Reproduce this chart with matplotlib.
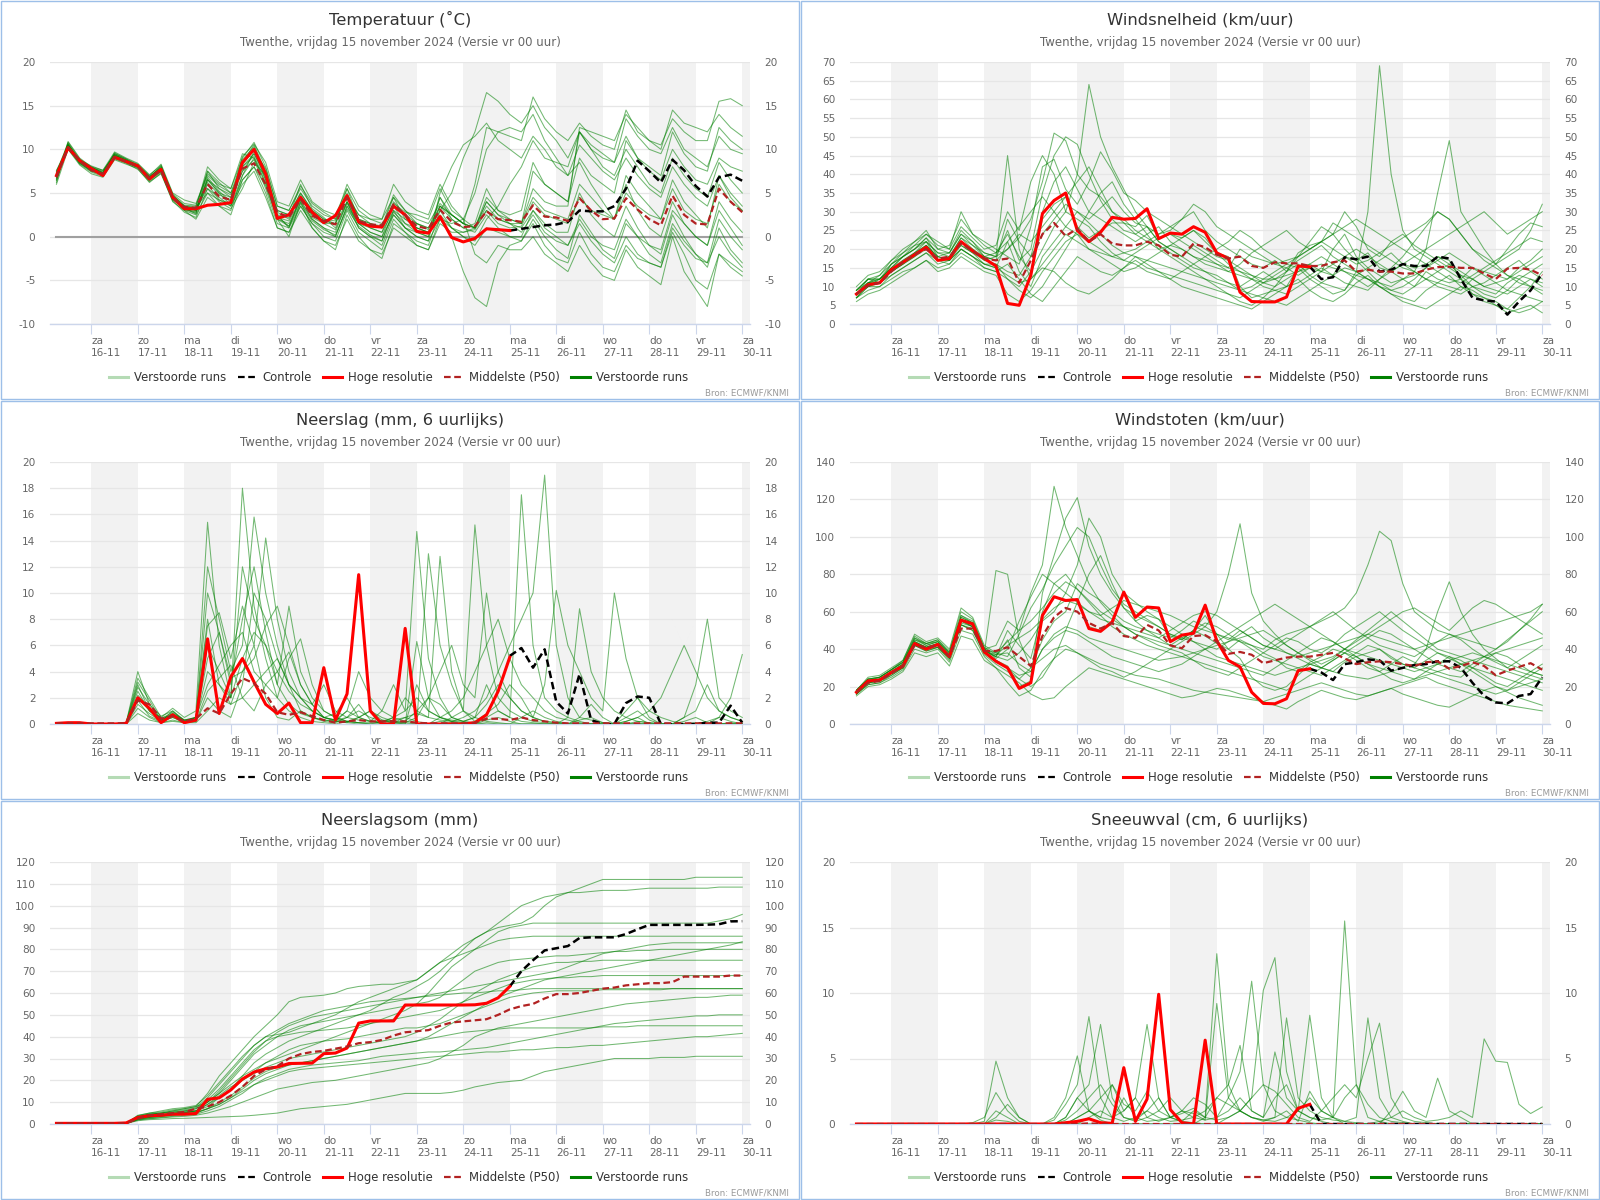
import numpy as np
import pandas as pd
import matplotlib
matplotlib.use('Agg')
import matplotlib.pyplot as plt
from matplotlib.lines import Line2D
from matplotlib.patches import Rectangle

plt.rcParams['font.family'] = ['DejaVu Sans']
plt.rcParams['axes.unicode_minus'] = False

# tijdas: 6-uurlijks, 15-11 06 UTC t/m 30-11 00 UTC
times = pd.date_range('2024-11-15 06:00', '2024-11-30 00:00', freq='6h')
day_ticks = pd.date_range('2024-11-16', '2024-11-30', freq='D')
day_names = ['za', 'zo', 'ma', 'di', 'wo', 'do', 'vr', 'za', 'zo', 'ma', 'di', 'wo', 'do', 'vr', 'za']
day_labels = [f'{n}\n{d.day}-{d.month}' for n, d in zip(day_names, day_ticks)]

subtitle = 'Twenthe, vrijdag 15 november 2024 (Versie vr 00 uur)'
legend_labels = ['Verstoorde runs', 'Controle', 'Hoge resolutie', 'Middelste (P50)', 'Verstoorde runs']

# ---------------- Temperatuur ----------------
temp_members = [
    [6.5,10.5,8.5,7.5,7.2,9.3,8.8,8.0,6.8,8.0,4.8,3.5,
     3.0,6.5,5.0,4.5,8.5,10.5,7.5,3.0,2.5,5.0,3.0,2.0,
     1.5,5.0,2.0,1.0,0.5,4.0,2.5,1.0,0.5,2.5,1.0,0.5,
     0.8,3.0,1.5,1.0,1.2,4.0,2.5,2.0,1.5,4.5,3.0,2.5,
     2.0,5.0,3.5,2.5,2.0,5.5,3.0,2.0,1.5,6.0,4.0,3.0],
    [7.2,10.8,8.9,7.9,7.4,9.6,8.9,8.3,7.0,8.3,5.0,4.2,
     3.8,7.2,6.0,5.5,9.0,10.8,8.0,3.5,3.0,5.5,3.5,2.5,
     2.0,6.0,3.5,2.5,2.0,4.5,3.0,1.5,1.0,3.5,2.5,1.5,
     6.0,12.5,12.0,11.5,11.0,16.0,13.5,12.0,11.0,13.0,11.5,10.5,
     10.0,14.5,12.0,11.0,10.5,13.5,12.0,11.0,11.0,15.5,15.8,15.0],
    [6.0,10.0,8.2,7.2,6.8,8.8,8.3,7.8,6.2,7.3,4.0,3.0,
     2.5,5.0,3.5,2.5,6.5,8.0,5.0,1.0,0.5,3.5,1.5,0.0,
     -0.5,3.0,0.5,-0.5,-1.5,2.0,0.5,-1.0,-1.5,2.0,0.0,-4.0,
     -7.0,-8.0,-3.0,-1.0,-0.5,1.5,-1.0,-2.5,-3.0,0.5,-2.0,-3.5,
     -4.0,-1.0,-2.5,-3.0,-3.5,0.5,-2.0,-5.0,-6.0,-2.0,-3.5,-4.5],
    [7.5,10.6,8.6,8.0,7.6,9.4,8.7,8.2,6.9,7.9,4.6,3.2,
     2.8,6.0,4.2,3.8,8.0,9.5,7.0,2.5,2.2,6.0,3.2,2.2,
     1.0,4.0,1.0,0.0,-0.5,3.0,1.0,0.5,0.0,4.5,2.0,1.0,
     1.5,5.5,3.0,2.5,3.0,8.5,6.0,5.0,4.0,9.0,7.0,6.0,
     5.0,11.0,9.0,8.0,7.0,12.0,9.5,8.0,7.5,12.5,11.0,10.0],
    [6.8,10.3,8.8,7.7,7.1,9.0,8.5,7.9,6.5,7.5,4.3,3.5,
     3.2,8.0,6.5,5.5,9.5,9.0,6.0,2.0,1.5,4.0,2.0,1.0,
     0.0,3.5,1.0,0.0,-1.0,2.5,1.0,0.0,-0.5,2.0,1.5,2.0,
     5.0,10.0,12.0,12.5,12.0,14.0,11.0,9.0,7.0,8.5,6.0,4.0,
     2.0,6.0,3.0,1.0,0.0,4.0,1.5,0.0,-1.0,3.0,1.0,-1.0],
    [7.0,10.4,8.4,7.6,7.0,9.2,8.6,8.1,6.7,7.8,4.4,3.0,
     2.0,4.5,3.5,3.0,7.0,9.8,7.8,3.5,3.0,5.8,3.8,2.8,
     2.0,4.8,2.5,1.5,1.0,3.8,2.8,2.5,2.0,5.5,3.0,2.0,
     1.0,3.5,2.0,1.5,0.5,2.5,0.5,-0.5,-1.0,1.5,-0.5,-2.0,
     -3.0,0.0,-2.0,-3.0,-3.5,1.0,-1.0,-2.5,-3.0,2.0,0.0,-1.5],
    [6.6,10.7,8.7,7.8,7.3,9.5,8.8,8.2,6.6,7.6,4.7,3.6,
     3.5,7.5,5.5,4.5,8.2,10.0,6.5,2.0,0.0,4.0,1.0,-0.5,
     -1.5,2.5,0.0,-1.5,-2.5,1.5,0.5,-0.5,-1.0,3.0,5.0,9.0,
     12.0,16.5,15.5,14.0,13.0,15.0,12.5,11.0,9.0,12.0,10.5,9.5,
     8.5,11.5,9.0,7.5,6.5,10.0,8.0,6.5,6.0,9.0,8.0,7.5],
    [7.3,10.1,8.6,7.9,7.5,9.3,8.7,8.0,6.4,7.4,4.2,3.3,
     3.0,6.8,5.2,4.0,7.5,8.8,5.5,1.5,1.0,4.5,2.5,1.5,
     1.5,5.5,2.0,1.5,1.0,4.5,2.0,1.0,0.5,3.0,1.0,0.0,
     -0.5,2.0,3.5,6.0,8.0,11.0,9.0,8.5,8.0,12.0,10.0,9.0,
     8.5,13.5,11.5,10.0,9.5,12.5,10.0,9.0,8.0,11.5,10.0,9.5],
    [6.9,10.5,8.8,8.1,7.6,9.7,9.0,8.4,7.1,8.1,4.9,3.8,
     3.6,7.0,5.8,5.0,8.8,10.3,7.2,2.8,2.0,4.8,2.2,1.5,
     0.8,3.8,1.5,1.0,0.5,3.0,2.0,1.5,1.0,2.0,1.0,0.0,
     -1.0,1.0,0.5,0.0,0.0,3.0,1.5,0.5,0.5,5.0,2.5,1.0,
     0.0,3.5,1.0,-1.0,-2.0,2.5,0.0,-2.0,-3.5,1.0,-1.5,-3.0],
    [7.1,10.2,8.3,7.4,6.9,8.9,8.4,7.7,6.3,7.2,4.1,2.8,
     2.2,5.5,4.5,3.5,6.0,7.5,4.5,1.0,0.5,3.0,1.0,-0.5,
     -1.0,2.0,-0.5,-1.5,-2.0,1.0,0.0,-1.0,-1.5,1.5,0.5,0.5,
     1.0,4.0,2.5,2.0,1.5,5.5,4.0,3.5,3.5,12.5,12.0,11.5,
     11.0,14.0,12.5,11.0,10.0,14.5,13.0,12.5,12.0,14.0,12.5,11.5],
    [6.4,10.9,9.0,8.0,7.3,9.5,8.9,8.1,6.8,7.7,4.5,3.4,
     3.3,5.5,4.0,3.2,5.5,8.5,7.0,3.0,2.5,5.0,3.0,2.0,
     1.8,4.5,2.5,2.0,1.5,3.5,2.5,1.5,0.8,4.5,2.5,1.5,
     1.0,3.0,2.0,1.5,1.5,4.5,3.0,2.5,2.0,6.0,4.5,3.0,
     2.0,7.0,5.0,3.5,2.0,6.5,4.0,2.5,1.0,7.0,4.5,3.0],
    [7.6,10.0,8.5,7.6,7.2,9.0,8.5,8.0,6.6,7.5,4.6,3.1,
     2.9,6.2,4.8,4.2,9.2,10.6,8.5,4.0,3.5,6.5,4.0,3.0,
     2.5,5.5,3.0,2.0,2.0,6.0,4.0,3.0,2.5,6.0,3.5,2.0,
     -2.0,-3.0,-1.0,-1.5,-1.5,0.0,-2.0,-3.0,-4.0,-1.0,-3.0,-4.5,
     -5.0,-1.5,-3.5,-4.5,-5.5,0.0,-4.0,-6.0,-8.0,-2.0,-3.0,-4.0],
    [6.2,10.6,8.6,7.7,7.0,9.4,8.7,8.0,6.5,8.2,4.5,3.3,
     2.6,6.5,5.5,4.8,7.5,9.5,6.8,2.5,1.0,3.5,1.5,0.5,
     0.0,3.5,1.5,0.5,0.0,2.5,1.0,0.0,-0.5,5.0,8.0,10.5,
     11.5,13.0,11.0,10.0,9.0,11.5,10.0,8.0,7.0,10.5,9.0,7.5,
     6.5,9.0,7.0,5.5,4.5,8.0,6.0,4.5,3.5,7.0,5.0,3.5],
    [7.4,10.3,8.8,7.9,7.3,9.2,8.6,8.1,6.8,7.8,4.6,3.4,
     3.0,6.6,5.0,3.6,7.0,9.0,6.2,2.2,1.8,4.2,2.0,1.0,
     0.5,4.0,1.5,0.5,0.0,3.5,1.5,0.5,0.0,3.5,2.0,1.0,
     0.5,2.5,1.0,0.0,-0.5,2.0,0.0,-1.5,-2.5,2.5,0.5,-1.5,
     -2.5,1.5,0.0,-1.0,-1.5,3.0,1.5,0.0,-1.0,4.0,2.0,0.5],
    [6.7,10.1,8.4,7.5,7.1,9.1,8.5,7.9,6.6,7.6,4.3,3.1,
     2.7,7.5,6.2,5.0,8.0,9.2,6.5,2.3,1.2,4.5,2.5,1.8,
     1.5,4.0,2.0,1.5,1.2,4.8,3.0,2.0,1.5,3.8,2.5,1.5,
     1.0,4.5,3.0,2.0,1.5,7.5,6.0,5.0,4.0,12.0,10.0,8.0,
     7.0,10.0,8.0,6.0,5.0,9.0,7.0,5.5,4.5,8.5,6.5,5.0],
    [7.0,10.5,8.7,7.8,7.2,9.3,8.7,8.2,6.9,7.9,4.7,3.5,
     3.4,5.0,4.2,3.5,6.5,8.0,5.8,2.0,1.2,3.8,1.8,0.8,
     0.2,3.2,1.2,0.2,-0.5,2.8,1.5,1.0,0.5,3.5,2.5,1.5,
     1.0,4.0,2.5,1.5,1.0,3.0,1.0,0.0,-1.0,2.0,0.0,-1.0,
     -1.5,2.0,0.0,-2.0,-3.0,1.5,-0.5,-2.0,-3.0,0.0,-2.0,-3.5],
]
temp_hr = [7.0,10.2,8.7,7.8,7.0,9.1,8.6,8.1,6.6,7.7,4.5,3.2,
           3.2,3.6,3.7,3.9,8.5,10.0,7.2,2.1,2.5,4.5,2.8,1.6,
           2.4,4.7,1.7,1.2,1.1,3.5,2.5,0.6,0.4,2.3,-0.1,-0.6,
           -0.2,0.9,0.8,0.7]
temp_ctrl = [0.7,0.9,1.1,1.3,1.4,1.7,3.0,2.9,2.9,3.5,5.5,8.7,7.5,6.2,8.8,7.6,5.8,4.6,6.8,7.1,6.4]
temp_p50 = [6.8,10.2,8.7,7.6,7.2,9.1,8.6,8.0,6.7,7.6,4.4,3.4,
            3.3,6.0,4.6,4.2,7.8,8.4,6.0,2.8,2.2,4.3,2.4,1.8,
            1.4,4.5,1.8,1.4,1.3,3.7,2.5,1.2,0.9,3.1,1.7,1.1,
            1.2,2.9,2.0,1.9,1.7,3.6,2.3,2.2,1.8,4.4,3.0,2.0,
            2.1,4.4,3.1,2.0,1.3,4.7,2.5,1.5,1.4,5.5,4.0,2.8]

# ---------------- Windsnelheid ----------------
wind_members = [
    [8,11,12,15,17,19,21,18,17,22,20,17, 16,12,10,14,28,32,34,26,23,25,27,27,
     26,29,23,24,23,25,23,19,18,10,7,8, 9,10,15,16,14,13,18,17,19,15,14,16,
     15,16,18,17,12,8,7,6,4,7,10,14],
    [9,12,11,16,18,20,23,18,19,24,21,19, 18,25,17,20,35,45,50,48,40,33,28,25,
     24,26,22,20,18,21,19,17,15,20,18,17, 16,15,13,15,14,20,24,18,15,13,11,12,
     10,14,12,11,12,15,14,13,12,15,17,20],
    [7,10,10,13,15,17,19,16,17,20,18,16, 15,22,14,10,18,22,26,30,28,31,34,30,
     27,26,24,25,28,30,25,22,20,18,16,15, 17,14,19,21,22,24,30,26,20,18,22,24,
     21,19,17,15,13,12,10,9,8,10,12,11],
    [8,10,12,14,16,18,20,17,18,21,19,17, 18,45,20,12,15,14,11,9,8,10,12,15,
     18,16,14,12,10,9,8,7,6,5,4,6, 8,10,12,9,7,6,8,11,13,10,8,7,
     6,9,11,13,10,8,6,5,3,4,5,3],
    [10,13,14,17,20,22,25,20,21,28,24,22, 20,18,16,26,42,44,36,32,38,46,41,35,
     33,30,28,26,24,22,20,18,17,15,13,11, 12,14,16,13,11,10,9,13,15,17,19,16,
     14,12,11,10,9,12,14,16,18,20,25,32],
    [7,9,10,12,14,15,17,14,15,18,16,14, 13,8,6,9,14,18,22,24,20,18,16,14,
     15,17,19,21,20,18,16,15,14,16,19,21, 23,25,22,20,22,27,25,23,21,19,17,15,
     14,12,10,9,8,10,11,13,15,17,14,12],
    [9,11,13,16,19,22,24,21,20,26,23,20, 21,30,25,38,45,40,30,28,26,22,19,17,
     16,14,13,12,14,16,18,20,22,25,23,20, 18,16,15,12,10,8,9,14,30,69,40,25,
     20,18,16,14,12,10,9,8,11,13,12,10],
    [6,8,9,11,13,15,17,15,16,19,17,15, 14,16,12,8,6,10,14,18,16,14,13,15,
     17,15,14,13,12,11,10,9,8,7,9,11, 13,15,17,19,21,18,16,14,12,10,9,8,
     10,12,14,16,14,12,10,11,9,8,7,6],
    [8,12,12,15,18,21,22,19,19,25,22,18, 17,20,23,28,38,51,49,40,36,34,30,28,
     25,23,21,19,17,15,14,12,11,9,10,12, 14,16,18,20,22,20,18,16,17,19,21,23,
     25,27,30,28,24,20,17,15,13,12,14,16],
    [7,11,11,14,17,19,22,17,18,23,20,18, 19,24,18,14,20,26,30,40,64,50,42,36,
     30,26,22,20,18,16,14,13,11,10,12,14, 12,10,11,13,15,13,11,10,9,12,15,18,
     22,26,30,28,24,20,18,16,20,24,27,26],
    [8,10,11,14,16,18,21,18,17,20,18,16, 15,13,11,12,16,20,24,22,20,19,18,17,
     19,21,23,24,22,20,18,16,15,14,13,12, 12,13,14,15,16,15,14,13,12,11,10,12,
     14,20,35,49,30,25,20,16,13,11,10,9],
    [9,12,13,17,19,21,24,22,20,30,24,21, 19,22,26,30,34,30,26,24,22,20,18,19,
     20,22,24,26,28,32,30,26,24,22,20,18, 16,17,18,20,22,24,26,28,26,24,22,20,
     18,16,14,12,11,13,15,17,19,21,23,22],
    [8,11,12,16,18,20,22,19,18,23,21,18, 17,28,22,18,30,38,42,36,30,28,26,24,
     22,24,26,22,20,18,17,16,14,13,12,10, 9,8,10,12,14,16,18,20,18,16,14,12,
     13,15,17,19,17,15,13,11,12,14,16,18],
    [7,10,11,13,15,17,19,17,16,20,18,15, 14,12,9,7,10,15,20,25,30,35,38,32,
     28,24,20,18,16,14,12,10,8,6,5,7, 10,14,18,22,26,24,20,17,14,11,9,10,
     12,15,18,16,13,10,8,7,9,12,10,8],
    [9,12,12,15,18,20,23,20,19,24,22,19, 18,20,24,22,26,30,34,38,42,36,30,27,
     24,22,20,21,23,25,22,19,16,14,12,11, 10,12,14,16,18,16,14,12,10,12,14,16,
     18,20,22,24,26,28,30,27,24,26,28,30],
    [8,11,11,14,16,19,21,17,17,21,19,16, 16,14,13,18,24,28,32,30,27,24,21,19,
     18,17,16,15,14,13,12,11,10,9,8,7, 6,5,7,9,11,13,15,14,12,10,8,6,
     5,4,6,8,10,9,7,5,4,3,4,6],
]
wind_hr = [8,10.5,11,14.5,16.5,18.5,20.5,17,17.5,22,19.5,17.5,
           15.5,5.5,5,13,29.5,33,35,25,22,24.5,28.5,28,
           28.2,30.8,22.8,24.3,24,26,24.5,19,17.5,8.5,6,5.9,
           5.9,7.2,15.5,15.3]
wind_ctrl = [15.3,12,12.5,17.8,17.3,18,14,14.5,16,15.5,15.5,18,17.5,12,7,6.3,6,2.5,6,9,13.5]
wind_p50 = [8,10.3,11,14,16.5,18.5,20,17.5,18,21.5,19.5,17.5,
            17,17.5,11,17,24,27,23.5,25.5,22,24,21.5,21,
            21,22,21,18.5,18,21.5,20.5,18.5,17.5,18,15.5,15,
            16.5,16.2,16.2,15.5,15.5,16.5,17,14,14.5,14,14,13.5,
            13.5,14.5,15.2,15.3,15,15,13.5,12,14.8,15,14.5,13]

# ---------------- Neerslag ----------------
prec_members = [
    [0,0,0.1,0,0,0,0.1,2.5,1.0,0.3,0.8,0.2, 0.5,8.0,3.0,1.5,4.0,6.0,2.0,0.5,0.3,1.0,0.5,0.2,
     0.1,0.5,1.5,0.3,0,0.1,0.5,0.2,0,0,0.5,1.0, 0.2,0.8,1.5,3.0,2.0,0.5,0.2,0.1,0,0.3,0.5,0.1,
     0,0,0.2,0.1,0,0,0,0.1,0,0,0.1,0],
    [0,0,0,0,0,0,0.1,3.5,2.0,0.5,1.2,0.5, 1.0,15.4,6.0,2.0,18.0,9.0,5.0,2.0,1.0,0.5,0.2,0.1,
     0,0.2,0.5,1.0,0.3,0.1,0,0,0,0.2,0.1,0, 0,0.3,0.5,0.2,0,0,0,0,0,0,0,0,
     0,0,0,0,0,0,0.2,0.5,0.1,0,0,0],
    [0,0,0,0,0,0,0,1.5,0.8,0.2,0.5,0.1, 0.3,12.0,8.0,4.0,6.0,15.8,10.0,6.0,3.0,2.0,1.0,0.5,
     0.8,2.0,0.5,0.2,1.0,3.0,1.0,14.7,5.0,2.0,0.5,0.2, 0.5,3.0,1.0,0.5,17.5,6.0,2.0,1.0,0.5,0.2,0,0,
     0,1.0,2.0,0.5,0,0,0.5,1.0,3.0,1.0,0.5,0.2],
    [0,0,0,0,0,0,0.1,4.0,1.5,0.3,0.8,0.3, 0.5,7.5,8.5,5.0,9.0,6.0,14.2,8.0,4.0,2.0,1.5,3.0,
     1.0,0.5,0.3,0.2,0.1,0.5,2.0,1.0,0.5,12.8,4.0,1.0, 15.2,6.0,2.0,1.0,0.5,0.2,0.1,0,0,0.5,1.5,0.5,
     0,0.2,0.5,0,0,0,0,0,0,0,0,0],
    [0,0,0,0,0,0,0,2.0,1.0,0.5,0.6,0.2, 0.3,4.0,3.0,2.0,5.0,7.0,6.0,4.0,2.5,1.5,1.0,0.5,
     0.3,1.0,0.5,0.2,0.1,0.3,0.5,0.8,0.5,0.3,0.2,0.5, 1.0,2.0,4.0,6.0,8.0,10.0,19.0,6.0,2.0,0.5,0.3,0.1,
     0,0.5,1.0,0.3,0,0,0,0,0.2,0.5,0.2,0],
    [0,0,0,0,0,0,0,1.2,0.5,0.1,0.3,0.1, 0.2,2.0,1.0,0.5,3.0,10.0,8.0,5.0,3.0,2.0,1.0,0.5,
     0.2,0.1,0,0,0.2,0.5,1.0,2.0,1.0,0.5,0.3,0.2, 0.5,1.5,3.0,2.0,1.0,0.5,3.0,10.2,6.0,4.0,2.0,1.0,
     10.0,5.0,2.0,1.0,0.5,0.2,0,0,0,0,0,0],
    [0,0,0,0,0,0,0,3.0,1.0,0.2,1.0,0.3, 0.5,6.0,4.0,2.0,12.0,8.0,6.0,3.0,9.0,4.0,2.0,1.0,
     0.5,0.2,0.1,0,0,0,0,3.0,1.0,0.5,0.2,0.1, 0,0.5,1.0,0.5,0.2,0.1,0,0,0.5,8.8,4.0,2.0,
     1.0,0.5,0.2,0.1,0,0,0.5,3.0,8.0,2.0,1.0,0.5],
    [0,0,0,0,0,0,0,0.8,0.3,0.1,0.2,0.1, 0.1,1.0,2.0,1.5,2.0,3.0,4.0,5.0,3.0,1.0,0.5,0.3,
     0.2,1.0,4.0,2.0,1.0,0.5,0.2,0.1,13.0,6.0,3.0,1.0, 0.5,0.2,0.1,0,0,0,0,0,0,0,0,0,
     0,0,0,0,0,0,0,0,0,0.5,2.0,5.3],
    [0,0,0,0,0,0,0,2.2,1.2,0.4,0.9,0.3, 0.4,5.0,7.0,3.0,8.0,12.0,7.0,3.0,1.5,0.8,0.5,0.3,
     0.2,0.1,0.5,1.0,0.5,0.2,0.1,0.5,2.0,4.0,6.0,3.0, 2.0,10.0,4.0,2.0,1.0,0.5,0.2,0.1,0,0,0,0,
     0,0,0,0,0,0,0,0,0,0,0,0],
    [0,0,0,0,0,0,0,1.8,0.6,0.2,0.5,0.2, 0.5,3.0,4.5,6.0,7.0,4.0,3.0,2.0,5.0,6.5,3.0,1.0,
     0.5,0.2,0.1,0.1,0.3,0.2,0.1,0,0,0.5,1.0,2.0, 4.0,6.0,8.0,5.0,3.0,2.0,1.0,0.5,0.3,0.1,0,0,
     0,0.2,0.5,1.0,2.0,4.0,6.0,4.0,2.0,1.0,0.5,0.2],
    [0,0,0,0,0,0,0,2.8,1.5,0.6,1.0,0.2, 0.3,10.0,7.0,3.5,4.0,5.0,7.5,9.0,6.0,3.0,1.5,0.5,
     0.3,0.2,0.1,0,0,0.1,0.2,1.0,2.0,1.5,0.5,0.2, 0.1,0,0,0,0.5,1.0,0.5,0.2,0,0,0,0,
     0,0,0,0,0,0,0,0,0,0,0,0],
    [0,0,0,0,0,0,0.1,3.2,1.8,0.3,0.7,0.2, 0.2,2.5,3.5,4.5,2.0,1.0,3.0,4.0,5.5,3.0,1.5,0.5,
     0.3,0.5,1.0,0.5,0.2,0.1,0,6.3,2.0,0.5,0.2,0.1, 0,0.1,0,0,0,0,0,0,0,0,0,0,
     0,0,0,0,0,0,0,0,0,0,0,0],
]
prec_hr = [0.05,0.1,0.1,0,0,0,0.05,2.0,1.2,0.1,0.7,0.1,
           0.3,6.5,0.8,3.6,5.0,3.2,1.5,0.8,1.6,0.1,0.1,4.3,
           0.3,2.3,11.4,1.0,0,0,7.3,0,0,0,0,0,
           0.1,0.7,2.5,5.1]
prec_ctrl = [5.2,5.8,4.3,5.7,1.7,0.8,3.8,0.3,0,0,1.6,2.1,2.0,0,0,0,0,0.1,0.1,1.4,0.1]
prec_p50 = [0.05,0.05,0.05,0.05,0.05,0.05,0.05,1.8,1.5,0.4,0.6,0.2,
            0.4,1.2,0.8,2.3,3.5,3.1,2.3,0.9,0.7,0.9,0.6,0.3,
            0.1,0.2,0.3,0.2,0.2,0.2,0.2,0.1,0.05,0.05,0.05,0.05,
            0.1,0.4,0.4,0.3,0.5,0.3,0.2,0.1,0.05,0.05,0.05,0.05,
            0.05,0.05,0.05,0.05,0.05,0.05,0.05,0.05,0.05,0.05,0.05,0.05]

# ---------------- Windstoten ----------------
gust_members = [
    [17,23,24,28,32,44,41,43,37,56,53,39, 34,31,20,23,58,68,66,66,52,50,55,70,
     55,58,56,47,45,50,58,48,40,35,25,20, 18,20,26,32,30,28,33,36,38,40,35,32,
     30,34,38,36,32,28,24,20,18,22,26,30],
    [18,24,25,29,33,46,42,44,38,58,55,40, 36,45,30,25,70,90,110,121,95,80,70,62,
     58,55,52,48,45,50,47,43,40,45,42,38, 35,30,28,33,36,40,38,34,30,28,32,36,
     33,30,28,26,25,30,34,38,36,32,28,26],
    [16,21,22,26,30,42,39,41,34,53,50,37, 32,28,24,30,45,55,60,75,70,66,60,55,
     52,50,48,46,50,55,52,48,45,50,46,42, 40,44,48,52,56,60,55,50,46,42,40,38,
     36,40,44,48,45,40,36,33,30,34,38,42],
    [17,22,23,27,31,43,40,42,35,55,52,38, 82,80,45,30,35,40,42,38,35,32,30,28,
     26,25,24,22,20,18,17,16,15,14,13,12, 14,16,18,20,22,20,18,16,15,17,19,21,
     23,25,22,20,18,16,14,12,10,9,8,7],
    [18,25,26,30,34,48,44,46,40,62,57,42, 38,36,48,62,72,85,95,105,100,85,72,64,
     60,56,52,48,46,44,42,40,44,48,52,46, 42,38,35,32,30,34,38,42,46,50,48,44,
     40,36,32,30,28,32,36,40,44,50,56,64],
    [16,21,22,25,29,40,38,40,33,50,48,36, 30,22,15,18,28,35,40,38,34,30,28,25,
     28,32,36,40,38,34,30,28,26,30,34,38, 42,46,44,40,38,42,48,52,56,60,55,50,
     46,42,38,35,32,30,28,26,24,22,20,18],
    [17,23,25,29,33,45,43,45,38,57,54,40, 42,55,50,70,85,127,105,90,75,65,58,52,
     48,45,42,40,44,48,52,60,80,107,70,55, 48,42,38,35,32,35,40,45,50,55,60,55,
     50,45,40,38,36,34,32,30,28,26,24,22],
    [15,20,21,24,28,38,36,38,31,47,45,34, 30,26,22,16,13,14,20,25,30,28,26,24,
     22,20,18,16,14,15,17,19,18,16,14,12, 10,8,12,15,18,16,14,13,15,17,19,16,
     14,12,10,9,12,15,18,20,17,14,12,10],
    [18,24,24,28,32,45,42,44,37,57,54,40, 35,40,55,68,80,75,70,65,60,58,62,66,
     64,62,60,58,55,52,50,48,46,44,42,40, 45,48,50,52,55,58,62,70,85,103,98,75,
     60,55,50,48,46,44,42,40,45,50,55,60],
    [17,22,24,27,31,44,41,43,36,55,52,39, 36,34,38,45,55,60,70,85,110,100,80,70,
     65,60,56,52,48,44,40,36,34,32,30,28, 26,28,30,32,34,36,40,44,48,52,56,60,
     62,58,54,50,56,62,66,64,60,56,52,48],
    [16,22,23,27,30,42,40,41,35,53,50,38, 34,30,26,28,40,48,52,50,46,44,42,40,
     38,36,34,35,36,38,40,42,44,46,48,50, 46,42,38,34,30,28,26,25,24,26,28,30,
     32,40,60,76,60,48,40,35,30,28,26,24],
    [18,24,25,29,34,47,43,45,39,60,56,41, 37,42,46,50,56,62,66,64,60,56,54,52,
     50,48,46,50,54,58,60,58,54,50,46,42, 40,38,36,38,40,42,44,46,48,46,44,42,
     40,42,44,46,48,50,52,54,56,58,60,64],
    [17,23,24,28,32,44,41,43,36,56,52,39, 36,50,42,35,60,75,80,72,65,58,52,48,
     45,42,40,38,36,34,32,30,28,26,24,22, 20,18,22,26,30,34,38,36,32,28,24,22,
     24,28,32,36,34,30,26,22,20,24,28,32],
    [16,22,23,26,30,42,39,41,35,53,51,38, 34,30,24,20,25,35,50,65,80,90,75,62,
     55,50,46,42,40,38,36,34,32,30,28,26, 30,34,38,42,46,44,40,36,32,30,28,26,
     24,26,28,30,32,34,36,38,40,42,44,46],
    [18,24,25,29,33,46,43,44,38,58,54,40, 38,44,50,55,62,70,76,72,66,60,56,52,
     48,46,44,42,46,50,54,52,48,44,40,36, 34,32,30,28,26,30,34,38,42,40,36,32,
     30,28,26,24,22,20,18,16,18,20,22,24],
    [17,23,23,27,31,43,41,42,36,54,52,39, 37,38,32,28,40,46,50,48,44,40,36,34,
     32,30,28,30,32,36,40,44,48,52,56,60, 64,60,56,52,48,44,40,38,36,34,32,30,
     28,30,32,34,36,38,36,34,32,30,28,26],
]
gust_hr = [17,23,23.5,27.5,31,43,40,42.5,36,55.5,53.5,38.5,
           33.5,30,19,22,58,68,66,66.5,51,49.5,54.5,70.5,
           57,62.5,62,44,47.5,48.5,63.5,44.5,34,30.5,17,11,
           10.8,13.5,28.5,29.5]
gust_ctrl = [29.5,27.5,23.5,32,33,34.5,34,28.5,30,31.5,32,33.5,33.5,30,22,15,11.5,11,15,16,25]
gust_p50 = [17,22,23,27,31,42,41,42,36,51,51,39,
            39,41,36,31,47,57,62,60,54,51,54,47,
            46,53,50,42,40.5,47,47.5,44,37.5,38.5,37,32.5,
            34,35.5,36,36,37,38,35,32,33,33.5,33,32,
            31,33,33.5,29.5,31,33,31,26,28.5,30.5,32.5,29]

# ---------------- Neerslagsom ----------------
sum_members = [
    [0.3,0.3,0.3,0.3,0.3,0.3,0.4,3.5,4.5,5.0,6.0,6.5, 7.5,12,18,24,30,36,40,41,42,44,46,48,
     50,53,56,58,60,62,64,66,70,74,78,82, 85,88,90,91,92,95,100,104,106,108,110,112,
     112,112,112,112,112,112,112,113,113,113,113,113],
    [0.3,0.3,0.3,0.3,0.3,0.3,0.3,2.5,3.5,4.0,5.0,5.5, 6,8,12,16,22,28,32,35,38,40,42,44,
     46,48,50,52,55,58,60,63,66,70,75,80, 85,88,92,96,100,102,104,105,106,106,106.5,107,
     107,107,107.5,108,108,108,108,108,108,108.5,108.5,108.5],
    [0.3,0.3,0.3,0.3,0.3,0.3,0.3,3.0,4.5,5.0,6.0,7.0, 8,14,22,28,34,40,45,50,56,58,58.5,59,
     60,62,63,63.5,64,64,65,66,70,74,76,78, 80,82,84,85,85.5,86,86,86,86,86,86,86,
     86,86,86,86,86,86,86,86,86,86,86,86],
    [0.3,0.3,0.3,0.3,0.3,0.3,0.3,1.5,2.0,2.2,2.5,2.6, 2.8,3.0,3.2,3.4,3.6,4.0,4.5,5.0,6.0,7.0,7.5,8.0,
     8.5,9.0,10,11,12,13,14,14,14,14,14.5,15.5, 17,18,19,19.5,20,22,24,25,26,27,28,29,
     30,30,30,30,30.5,30.5,30.5,31,31,31,31,31],
    [0.3,0.3,0.3,0.3,0.3,0.3,0.3,2.0,3.0,3.5,4.5,5.0, 6,10,14,18,22,25,28,30,32,34,36,38,
     40,42,44,46,48,50,52,55,60,66,72,76, 80,84,88,90,91,92,92,92,92,92,92,92,
     92,92,92,92,92,92,92,92,92,93,94,96],
    [0.3,0.3,0.3,0.3,0.3,0.3,0.3,3.0,4.0,4.5,5.0,5.5, 6,9,13,17,20,24,28,31,34,36,37,38,
     38.5,39,40,41,42,43,44,44,45,46,48,50, 52,54,56,58,59,60,60.5,61,61,61,61,61.5,
     61.5,61.5,61.5,61.5,61.5,62,62,62,62,62,62,62],
    [0.3,0.3,0.3,0.3,0.3,0.3,0.3,2.0,2.5,3.0,3.5,4.0, 4.5,6,8,11,14,18,21,23,25,26,27,27.5,
     28,28.5,29,30,31,31.5,32,32.5,33,33,33.5,34, 34.5,35,36,37,38,39,40,41,42,43,44,45,
     46,46.5,47,47.5,48,48.5,49,49.5,49.5,50,50,50],
    [0.3,0.3,0.3,0.3,0.3,0.3,0.3,4.0,5.0,5.5,6.5,7.0, 8,10,14,20,26,32,36,40,43,45,46,47,
     48,49,50,51,52,53,54,55,56,58,62,66, 70,72,74,75,75.5,76,76.5,77,77,77.5,78,78.5,
     79,79,79.5,79.5,80,80,80,80,80,80,80,80],
    [0.3,0.3,0.3,0.3,0.3,0.3,0.3,2.5,3.0,3.5,4.0,4.5, 5,7,9,12,15,18,20,22,24,25,25.5,26,
     26.5,27,27.5,28,28.5,29,29.5,30,30.5,31,31.5,32, 32.5,33,33,33.5,34,34,34.5,35,35,35.5,36,36,
     36.5,37,37.5,38,38.5,39,39.5,40,40,40.5,41,41.5],
    [0.3,0.3,0.3,0.3,0.3,0.3,0.3,3.5,4.5,5.0,5.5,6.0, 7,11,16,22,28,34,38,40,41,42,42.5,43,
     43.5,44,45,46,47,48,49,50,51,52,54,56, 58,60,62,64,65,66,66.5,67,67,67.5,67.5,68,
     68,68,68,68,68,68,68,68,68,68,68,68],
    [0.3,0.3,0.3,0.3,0.3,0.3,0.3,1.8,2.4,2.8,3.2,3.5, 4,5,6.5,8,10,12,14,16,17,18,19,19.5,
     20,21,22,23,24,25,26,27,28,30,33,36, 40,42,44,45,46,47,48,49,50,51,52,53,
     54,55,55.5,56,56.5,57,57.5,58,58,58.5,59,59],
    [0.3,0.3,0.3,0.3,0.3,0.3,0.3,2.8,3.5,4.0,4.8,5.2, 6,9,12,16,20,23,26,28,30,31,32,33,
     34,35,36,37,38,39,40,42,45,48,52,56, 60,63,66,68,70,72,73,74,74,74.5,74.5,75,
     75,75,75,75,75,75,75,75,75,75,75,75],
    [0.3,0.3,0.3,0.3,0.3,0.3,0.3,3.2,4.2,4.8,5.5,6.0, 7,10,15,21,27,33,38,42,45,47,49,50,
     51,52,53,54,55,56,57,58,59,60,61,62, 63,64,65,66,67,68,69,70,72,74,76,78,
     79,80,81,82,82.5,83,83,83,83,83,83,83],
    [0.3,0.3,0.3,0.3,0.3,0.3,0.3,2.2,3.0,3.5,4.0,4.5, 5,7,10,13,17,21,24,26,27,28,29,30,
     31,32,33,34,35,36,37,38,39,40,41,42, 42.5,43,43.5,44,44,44,44,44,44,44,44,44.5,
     44.5,44.5,45,45,45,45,45,45,45,45,45,45],
    [0.3,0.3,0.3,0.3,0.3,0.3,0.3,3.8,5.0,6.0,7.0,7.5, 8.5,13,19,25,31,36,40,43,46,48,50,52,
     53,54,55,56,56.5,57,57.5,58,58.5,59,59.5,60, 60,60.5,61,61,61.5,62,62,62,62,62,62,62,
     62,62,62,62,62,62,62,62,62,62,62,62],
    [0.3,0.3,0.3,0.3,0.3,0.3,0.3,2.6,3.4,3.8,4.4,5.0, 5.5,7,9,12,16,20,23,25,27,28,29,30,
     31,32,33,34,35,36,37,38,40,43,46,49, 52,55,58,60,62,64,66,67,68,69,70,71,
     72,73,74,75,76,77,78,79,80,81,82,83.5],
]
sum_hr = [0.3,0.3,0.3,0.3,0.3,0.3,0.5,3.0,3.8,4.0,4.5,4.5,
          4.8,11.3,12.0,15.6,20.6,23.8,25.3,26.1,27.7,27.8,27.9,32.2,
          32.5,34.8,46.2,47.2,47.2,47.2,54.5,54.5,54.5,54.5,54.5,54.5,
          54.6,55.3,57.8,63.0]
sum_ctrl = [63.0,70.0,75.0,79.5,80.5,81.5,85.2,85.5,85.5,85.5,87.0,89.2,91.2,91.2,91.2,91.2,91.2,91.3,91.5,92.8,92.9]
sum_p50 = [0.3,0.3,0.3,0.3,0.3,0.3,0.3,2.5,4.0,4.5,5.0,5.5,
           7.0,8.0,10.0,13.0,17.0,22.0,25.0,26.5,30.0,32.0,33.0,33.5,
           34.5,35.5,37.0,37.5,38.5,40.5,42.0,42.5,43.0,45.0,46.5,47.0,
           47.5,48.0,50.0,52.5,54.0,55.0,57.5,59.5,59.5,60.0,61.0,62.0,
           62.5,63.5,64.0,64.5,64.5,65.0,67.5,67.5,67.5,67.5,68.0,68.0]

# ---------------- Sneeuwval ----------------
snow_members = [
    [0,0,0,0,0,0,0,0,0,0,0,0.2, 4.8,2.0,0.5,0,0,0.5,2.0,5.2,1.0,0.3,0,0,
     0,0,0,0,0,0,0.5,13.0,3.0,1.0,0.5,0.2, 0.5,1.0,0.2,2.5,1.0,0.5,0,0,0,0,0,0,
     0,0,0,0,0,0,0,0,0,0,0,0],
    [0,0,0,0,0,0,0,0,0,0,0.1,0.5, 2.4,1.0,0.2,0,0,0.3,1.5,3.0,8.2,2.0,0.5,1.0,
     2.0,0.5,0.2,0.5,1.0,0.8,0.3,0.5,2.0,4.0,10.9,3.0, 1.0,0.5,0.3,0.1,0,0,0,0,0,0,0,0,
     0,0,0,0,0,0,0,0,0,0,0,0],
    [0,0,0,0,0,0,0,0,0,0,0,0, 1.0,0.5,0,0,0,0,0.5,2.0,3.0,7.6,2.0,0.5,
     0.3,1.0,2.0,0.5,0.2,0.1,0,0,0.5,1.0,2.0,10.2, 12.7,4.0,1.0,0.5,0.2,0,0,0,0,0,0,0,
     0,0,0,0,0,0,0,0,0,0,0,0],
    [0,0,0,0,0,0,0,0,0,0,0,0, 0.3,0.2,0,0,0,0,0,0.5,1.0,2.0,3.0,1.0,
     2.0,7.6,2.0,0.5,1.0,2.0,1.5,0.5,1.0,2.0,1.0,0.5, 2.0,3.0,1.0,8.3,2.0,0.5,15.5,3.0,0.5,0.2,0,0,
     0,0,0,0,0,0,0,0,0,0,0,0],
    [0,0,0,0,0,0,0,0,0,0,0,0, 0,0,0,0,0,0,0.3,1.0,2.0,3.0,1.5,0.5,
     0.2,0.5,1.0,2.0,1.0,0.5,0.3,9.2,2.0,1.0,0.5,0.3, 0.5,8.1,2.0,1.0,0.5,0.3,0.2,0.5,8.1,2.0,0.5,0.2,
     0,0,0,0,0,0,0,0,0,0,0,0],
    [0,0,0,0,0,0,0,0,0,0,0,0, 0,0,0,0,0,0,0,0,0.5,1.0,0.5,0.2,
     0.5,1.0,0.5,0.2,0.3,0.5,1.0,2.0,1.5,1.0,2.0,3.0, 2.5,1.5,0.5,0.2,1.0,2.0,3.0,2.0,5.0,7.7,2.0,0.5,
     0.2,0.1,0,0,0,0,0,0,0,0,0,0],
    [0,0,0,0,0,0,0,0,0,0,0,0, 0,0,0,0,0,0,0,0,0,0,0,0,
     0,0,0,0,0,0,0,0,0,0,0,0, 0,0,0,0,0,0,0,0,0,0.2,0.5,1.0,
     0.5,0.2,0.3,0.5,1.0,0.5,6.5,4.8,4.7,1.5,0.8,1.3],
    [0,0,0,0,0,0,0,0,0,0,0,0, 0.5,1.5,0.5,0,0,0,0,0.5,1.0,0.5,0.3,2.0,
     0.5,0.2,0.3,0.5,0.8,1.2,0.5,0.3,0.5,1.0,0.5,0.3, 0.2,0.5,1.0,2.0,1.0,0.5,0.2,0.1,0,0,0,0,
     0,0,0,0,0,0,0,0,0,0,0,0],
    [0,0,0,0,0,0,0,0,0,0,0,0, 0,0,0,0,0,0,0,0,0,0,0,0,
     0,0,0,0,0,0,0,0,0,0,0,0, 0,0,0,0,0,0,0,0,0,0,1.0,2.5,
     1.0,0.5,3.5,1.0,0.5,0,0,0,0,0,0,0],
    [0,0,0,0,0,0,0,0,0,0,0,0, 0,0,0,0,0,0,0.5,2.0,1.0,0.5,3.0,1.5,
     1.0,2.5,1.0,0.5,0.2,1.0,0.5,2.0,3.0,6.0,1.0,0.5, 5.5,2.0,1.0,0.5,0.3,0.5,2.0,3.0,1.5,0.5,0.2,0.1,
     0,0,0,0,0,0,0,0,0,0,0,0],
]
snow_hr = [0,0,0,0,0,0,0,0,0,0,0,0,
           0,0,0,0,0,0,0.1,0.2,0.4,0.1,0.05,4.3,
           0.2,1.9,9.9,1.1,0.1,0,6.4,0,0,0,0,0,
           0,0,1.2,1.5]
snow_ctrl = [1.5,0,0,0,0,0,0,0,0,0,0,0,0,0,0,0,0,0,0,0,0]
snow_p50 = [0,0,0,0,0,0,0,0,0,0,0,0,
            0,0,0,0,0,0,0,0,0.05,0,0,0,
            0,0,0,0,0,0,0,0,0,0,0,0,
            0,0,0,0,0,0,0,0,0,0,0,0,
            0,0,0,0,0,0,0,0,0,0,0,0]

panels = [
    ('Temperatuur (˚C)', temp_members, temp_hr, temp_ctrl, temp_p50, (-10, 20), 5, True),
    ('Windsnelheid (km/uur)', wind_members, wind_hr, wind_ctrl, wind_p50, (0, 70), 5, False),
    ('Neerslag (mm, 6 uurlijks)', prec_members, prec_hr, prec_ctrl, prec_p50, (0, 20), 2, False),
    ('Windstoten (km/uur)', gust_members, gust_hr, gust_ctrl, gust_p50, (0, 140), 20, False),
    ('Neerslagsom (mm)', sum_members, sum_hr, sum_ctrl, sum_p50, (0, 120), 10, False),
    ('Sneeuwval (cm, 6 uurlijks)', snow_members, snow_hr, snow_ctrl, snow_p50, (0, 20), 5, False),
]

W, H = 1600, 1200
fig = plt.figure(figsize=(16, 12), dpi=100)

legend_handles = [
    Line2D([], [], color='#b5dbb5', lw=2.2),
    Line2D([], [], color='black', lw=1.6, ls=(0, (3, 1.6))),
    Line2D([], [], color='red', lw=2.2),
    Line2D([], [], color='#b22222', lw=1.6, ls=(0, (3, 1.6))),
    Line2D([], [], color='#008000', lw=2.2),
]

hr_end = len(temp_hr)
for k, (title, members, hr, ctrl, p50, ylim, ystep, zero_line) in enumerate(panels):
    row, col = divmod(k, 2)
    px, py = col * 800, row * 400

    # kader om het paneel
    fig.add_artist(Rectangle(((px + 1) / W, 1 - (py + 399) / H), 798 / W, 398 / H,
                             transform=fig.transFigure, fill=False, ec='#9dbfe8', lw=1))

    ax = fig.add_axes([(px + 50) / W, 1 - (py + 324) / H, 700 / W, 262 / H])

    for d in day_ticks[::2]:
        ax.axvspan(d, d + pd.Timedelta(days=1), color='#f2f2f2', lw=0, zorder=0)

    if zero_line:
        ax.plot(times, np.zeros(len(times)), color='#a0a0a0', lw=1.5, zorder=1)

    for m in members:
        ax.plot(times[:len(m)], m, color='#008000', lw=0.75, alpha=0.55, zorder=2)
    ax.plot(times[hr_end - 1:hr_end - 1 + len(ctrl)], ctrl, color='black', lw=1.8,
            ls=(0, (3, 1.6)), zorder=3)
    ax.plot(times[:len(hr)], hr, color='red', lw=2.2, zorder=4)
    ax.plot(times[:len(p50)], p50, color='#b22222', lw=1.6, ls=(0, (3, 1.6)), zorder=5)

    ax.set_xlim(pd.Timestamp('2024-11-15 02:40'), pd.Timestamp('2024-11-30 04:00'))
    ax.set_ylim(*ylim)
    ax.set_yticks(np.arange(ylim[0], ylim[1] + ystep, ystep))
    ax.set_xticks(day_ticks)
    ax.set_xticklabels(day_labels, ha='left', linespacing=1.3)

    for s in ['top', 'left', 'right']:
        ax.spines[s].set_visible(False)
    ax.spines['bottom'].set_color('#ccd6eb')
    ax.spines['bottom'].set_linewidth(1)
    ax.yaxis.grid(True, color='#e6e6e6', lw=0.9)
    ax.set_axisbelow(True)
    ax.tick_params(axis='x', length=7.2, width=0.8, color='#ccd6eb', labelcolor='#666666',
                   labelsize=7.6, pad=1.5)
    ax.tick_params(axis='y', length=0, labelcolor='#666666', labelsize=7.6, pad=10.5,
                   labelright=True)

    ax.legend(legend_handles, legend_labels, loc='center', bbox_to_anchor=(0.498, -0.206),
              ncol=5, frameon=False, fontsize=8.4, handlelength=1.6, handletextpad=0.5,
              columnspacing=1.0, labelcolor='#333333')

    fig.text((px + 400) / W, 1 - (py + 24.5) / H, title, ha='center', va='baseline',
             fontsize=11.8, color='#333333')
    fig.text((px + 400) / W, 1 - (py + 46) / H, subtitle, ha='center', va='baseline',
             fontsize=8.5, color='#666666')
    fig.text((px + 789) / W, 1 - (py + 393) / H, 'Bron: ECMWF/KNMI', ha='right', va='center',
             fontsize=6.3, color='#999999')

fig.savefig('out.png', dpi=100)
